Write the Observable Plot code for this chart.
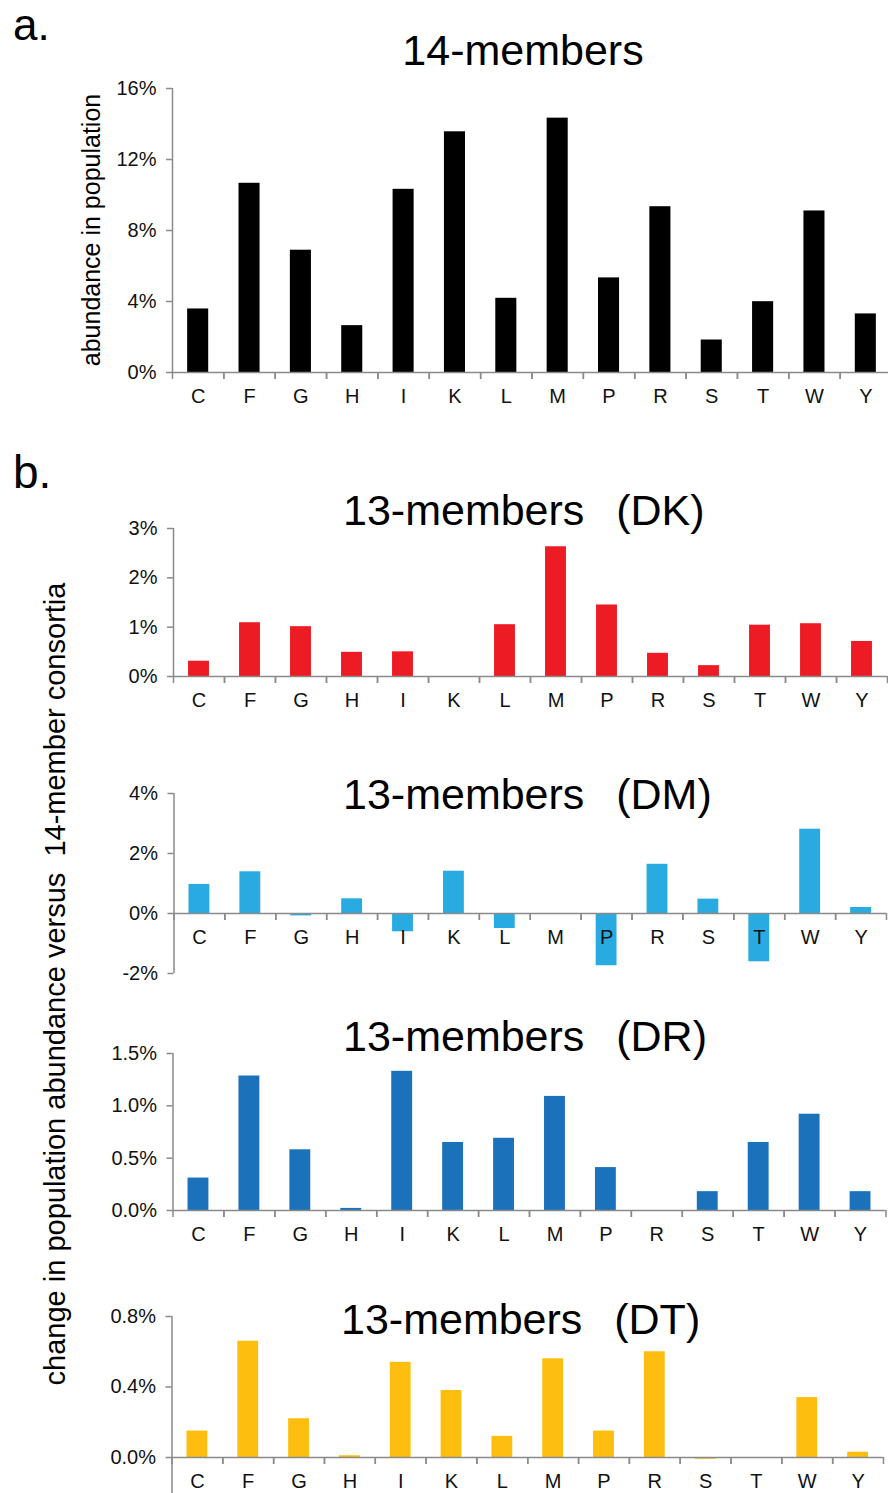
<!DOCTYPE html>
<html>
<head>
<meta charset="utf-8">
<script src="https://cdn.jsdelivr.net/npm/d3@7"></script>
<script src="https://cdn.jsdelivr.net/npm/@observablehq/plot@0.6"></script>
<style>
  html, body { margin: 0; padding: 0; background: #fff; overflow: hidden; }
  #page { position: relative; width: 888px; height: 1493px; overflow: hidden;
          font-family: "Liberation Sans", Arial, Helvetica, sans-serif; color: #000; }
  #page svg { position: absolute; left: 0; top: 0; }
  .txt { position: absolute; line-height: 1; white-space: pre; }
  .rot { position: absolute; line-height: 1; white-space: pre; transform: translate(-50%, -50%) rotate(-90deg); }
</style>
</head>
<body>
<div id="page"></div>
<script>
// Amino acids along the x axis
const aminoAcids = ["C", "F", "G", "H", "I", "K", "L", "M", "P", "R", "S", "T", "W", "Y"];

// a. abundance (%) in the 14-member population
const abundance14 = [3.58, 10.66, 6.89, 2.64, 10.32, 13.56, 4.18, 14.33, 5.33, 9.34, 1.83, 3.99, 9.10, 3.30];

// b. change in abundance (%) of each 13-member consortium versus the 14-member one
const changeDK = [0.31, 1.09, 1.01, 0.49, 0.50, 0.00, 1.05, 2.63, 1.45, 0.47, 0.22, 1.04, 1.07, 0.71];
const changeDM = [0.97, 1.39, -0.08, 0.49, -0.61, 1.41, -0.50, 0.00, -1.74, 1.64, 0.48, -1.61, 2.81, 0.20];
const changeDR = [0.31, 1.285, 0.58, 0.02, 1.33, 0.65, 0.69, 1.09, 0.41, 0.00, 0.18, 0.65, 0.92, 0.18];
const changeDT = [0.15, 0.66, 0.22, 0.01, 0.54, 0.38, 0.12, 0.56, 0.15, 0.60, -0.01, 0.00, 0.34, 0.03];

// y tick values per panel
const ticks14 = [0, 4, 8, 12, 16];
const ticksDK = [0, 1, 2, 3];
const ticksDM = [-2, 0, 2, 4];
const ticksDR = [0, 0.5, 1.0, 1.5];
const ticksDT = [0, 0.4, 0.8];

const W = 888, H = 1493;
const AXIS = "#8a8a8a";
const FONT = '"Liberation Sans", Arial, Helvetica, sans-serif';
const page = document.getElementById("page");

// Panel layout (page pixels): y of the top tick, y of zero, lowest domain value, x band extent
const panels = [
  {values: abundance14, ticks: ticks14, lo: 0, hi: 16, top: 88, zero: 372, xr: [172, 891], fill: "#000000", fmt: d => d + "%"},
  {values: changeDK, ticks: ticksDK, lo: 0, hi: 3, top: 528, zero: 676, xr: [173, 887], fill: "#ED1C24", fmt: d => d + "%"},
  {values: changeDM, ticks: ticksDM, lo: -2, hi: 4, top: 793, zero: 913, xr: [173.5, 886], fill: "#29ABE2", fmt: d => d + "%"},
  {values: changeDR, ticks: ticksDR, lo: 0, hi: 1.5, top: 1053, zero: 1210, xr: [172.5, 885.5], fill: "#1B72BA", fmt: d => d.toFixed(1) + "%"},
  {values: changeDT, ticks: ticksDT, lo: -0.4, hi: 0.8, top: 1316, zero: 1457, xr: [171.5, 883], fill: "#FDBE10", fmt: d => d.toFixed(1) + "%"}
];

for (const p of panels) {
  const rows = aminoAcids.map((a, i) => ({aa: a, v: p.values[i]}));
  const pxPerUnit = (p.zero - p.top) / p.hi;
  const yLow = p.zero - p.lo * pxPerUnit; // pixel of lowest domain value
  const step = (p.xr[1] - p.xr[0]) / aminoAcids.length;

  const chart = Plot.plot({
    width: W,
    height: H,
    marginLeft: p.xr[0],
    marginRight: Math.max(0, W - p.xr[1]),
    marginTop: p.top,
    marginBottom: H - p.zero,
    style: {background: "transparent", fontFamily: FONT, fontSize: "20px", color: "#111", overflow: "hidden"},
    x: {domain: aminoAcids, range: p.xr, round: false, paddingInner: 0.59, paddingOuter: 0.295, label: null, axis: null},
    y: {domain: [p.lo, p.hi], range: [yLow, p.top], label: null, axis: null},
    marks: [
      Plot.barY(rows, {x: "aa", y: "v", fill: p.fill}),
      // baseline at zero
      Plot.ruleY([0], {stroke: AXIS, strokeWidth: 1.5}),
      // vertical axis line along the left edge of the first band
      Plot.ruleX([aminoAcids[0]], {x: d => d, y1: p.lo, y2: p.hi, dx: -step / 2, stroke: AXIS, strokeWidth: 1.5}),
      // tick marks between categories
      Plot.axisX({tickSize: 7, tickFormat: () => "", dx: -step / 2, stroke: AXIS, strokeWidth: 1.5, label: null}),
      Plot.axisX({tickSize: 7, tickFormat: () => "", dx: step / 2, stroke: AXIS, strokeWidth: 1.5, label: null}),
      Plot.axisY({ticks: p.ticks, tickSize: 6, tickPadding: 10, tickFormat: p.fmt, stroke: AXIS, strokeWidth: 1.5, label: null, fill: "#111"}),
      // category labels
      Plot.axisX({tickSize: 0, tickPadding: 16, label: null, fill: "#111"})
    ]
  });
  page.appendChild(chart);
}

// Panel letters, titles and axis labels
function addText(cls, text, css) {
  const el = document.createElement("div");
  el.className = cls;
  el.textContent = text;
  Object.assign(el.style, css);
  page.appendChild(el);
}
addText("txt", "a.", {left: "13px", top: "3px", fontSize: "44px"});
addText("txt", "b.", {left: "13px", top: "449px", fontSize: "46px"});
addText("txt", "14-members", {left: "523px", top: "29px", fontSize: "43px", transform: "translateX(-50%)"});
const titleCss = {fontSize: "43px", wordSpacing: "4px"};
addText("txt", "13-members  (DK)", {...titleCss, left: "343px", top: "489px"});
addText("txt", "13-members  (DM)", {...titleCss, left: "343px", top: "773px"});
addText("txt", "13-members  (DR)", {...titleCss, left: "343px", top: "1015px"});
addText("txt", "13-members  (DT)", {...titleCss, left: "341px", top: "1298px"});
addText("rot", "abundance in population", {left: "91px", top: "230px", fontSize: "25px"});
addText("rot", "change in population abundance versus  14-member consortia", {left: "55px", top: "984px", fontSize: "29px"});
</script>
</body>
</html>
